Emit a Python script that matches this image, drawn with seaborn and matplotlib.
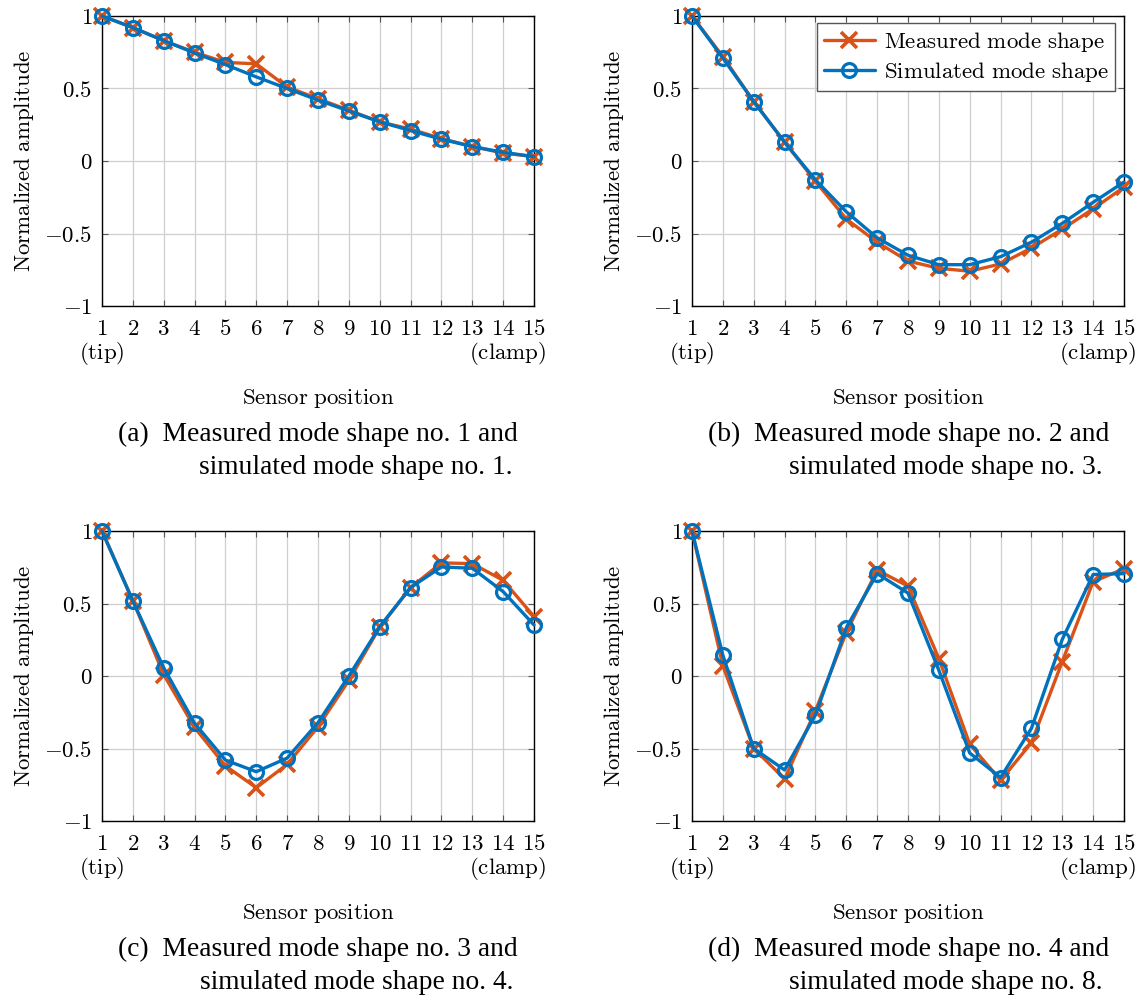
import numpy as np
import pandas as pd
import matplotlib
matplotlib.use("Agg")
import matplotlib.pyplot as plt
import matplotlib.transforms as mtransforms
import seaborn as sns

sns.set_style("white")
plt.rcParams["mathtext.fontset"] = "cm"
plt.rcParams["font.family"] = ["Liberation Serif", "DejaVu Serif"]
plt.rcParams["axes.unicode_minus"] = True
plt.rcParams["text.color"] = "black"
plt.rcParams["axes.labelcolor"] = "black"
plt.rcParams["xtick.color"] = "black"
plt.rcParams["ytick.color"] = "black"

# ---------------- data ----------------
sensors = list(range(1, 16))

meas_a = [1.0, 0.92, 0.83, 0.75, 0.68, 0.67, 0.51, 0.43, 0.35, 0.27, 0.22, 0.155, 0.10, 0.055, 0.03]
sim_a = [1.0, 0.92, 0.83, 0.745, 0.665, 0.58, 0.50, 0.42, 0.345, 0.27, 0.21, 0.15, 0.10, 0.06, 0.03]

meas_b = [1.0, 0.72, 0.41, 0.13, -0.14, -0.40, -0.56, -0.69, -0.74, -0.76, -0.71, -0.60, -0.47, -0.33, -0.18]
sim_b = [1.0, 0.71, 0.41, 0.13, -0.13, -0.35, -0.53, -0.65, -0.715, -0.715, -0.66, -0.56, -0.43, -0.285, -0.145]

meas_c = [1.0, 0.52, 0.01, -0.355, -0.62, -0.77, -0.61, -0.35, -0.03, 0.335, 0.61, 0.78, 0.775, 0.66, 0.41]
sim_c = [1.0, 0.517, 0.057, -0.326, -0.58, -0.66, -0.566, -0.322, 0.0, 0.34, 0.61, 0.752, 0.743, 0.582, 0.352]

meas_d = [1.0, 0.07, -0.50, -0.71, -0.24, 0.30, 0.73, 0.62, 0.12, -0.47, -0.72, -0.46, 0.10, 0.65, 0.74]
sim_d = [1.0, 0.143, -0.50, -0.648, -0.269, 0.333, 0.706, 0.572, 0.039, -0.531, -0.70, -0.361, 0.253, 0.70, 0.706]

y_ticks = [-1, -0.5, 0, 0.5, 1]
y_tick_labels = [r"$-1$", r"$-0.5$", r"$0$", r"$0.5$", r"$1$"]
x_tick_labels = [rf"${i}$" for i in sensors]

legend_labels = [r"$\mathrm{Measured\ mode\ shape}$", r"$\mathrm{Simulated\ mode\ shape}$"]
captions = [
    ("(a)  Measured mode shape no. 1 and", "simulated mode shape no. 1."),
    ("(b)  Measured mode shape no. 2 and", "simulated mode shape no. 3."),
    ("(c)  Measured mode shape no. 3 and", "simulated mode shape no. 4."),
    ("(d)  Measured mode shape no. 4 and", "simulated mode shape no. 8."),
]

panels = [(meas_a, sim_a), (meas_b, sim_b), (meas_c, sim_c), (meas_d, sim_d)]

ORANGE = "#D95319"
BLUE = "#0072BD"
FS = 16.5

W, H = 1148, 996
fig = plt.figure(figsize=(W / 100, H / 100), dpi=100)

# axes boxes in pixel: (left, top, right, bottom)
boxes = [(102, 16, 534, 306), (692, 16, 1124, 306), (102, 531, 534, 821), (692, 531, 1124, 821)]

for idx, ((meas, sim), box) in enumerate(zip(panels, boxes)):
    l, t, r, b = box
    ax = fig.add_axes([l / W, 1 - b / H, (r - l) / W, (b - t) / H])
    df = pd.DataFrame({"sensor": sensors, "meas": meas, "sim": sim})
    sns.lineplot(data=df, x="sensor", y="meas", ax=ax, color=ORANGE, lw=2.4,
                 marker="x", markersize=11, markeredgewidth=2.6, markeredgecolor=ORANGE,
                 label=legend_labels[0], legend=False, zorder=3, clip_on=False)
    sns.lineplot(data=df, x="sensor", y="sim", ax=ax, color=BLUE, lw=2.4,
                 marker="o", markersize=10, markeredgewidth=2.3, markeredgecolor=BLUE,
                 markerfacecolor="none", label=legend_labels[1], legend=False, zorder=4,
                 clip_on=False)
    ax.set_xlim(1, 15)
    ax.set_ylim(-1, 1)
    ax.set_xticks(sensors)
    ax.set_xticklabels(x_tick_labels, fontsize=FS)
    ax.set_yticks(y_ticks)
    ax.set_yticklabels(y_tick_labels, fontsize=FS)
    ax.tick_params(direction="in", length=4, width=0.8, color="#555555",
                   labelcolor="black",
                   top=True, right=True, bottom=True, left=True)
    ax.tick_params(axis="x", pad=9)
    ax.tick_params(axis="y", pad=7)
    ax.grid(True, color="#cfcfcf", lw=0.9)
    ax.set_axisbelow(True)
    for s in ax.spines.values():
        s.set_color("black")
        s.set_linewidth(1.0)
    ax.set_xlabel(r"$\mathrm{Sensor\ position}$", fontsize=FS, labelpad=34, color="black")
    ax.set_ylabel(r"$\mathrm{Normalized\ amplitude}$", fontsize=FS, labelpad=6, color="black")

    trans = mtransforms.blended_transform_factory(ax.transData, ax.transAxes)
    ax.text(1, -0.165, r"$\mathrm{(tip)}$", transform=trans, ha="center", va="center",
            fontsize=FS, color="black")
    ax.text(15.4, -0.165, r"$\mathrm{(clamp)}$", transform=trans, ha="right", va="center",
            fontsize=FS, color="black")

    if idx == 1:
        leg = ax.legend(loc="upper right", fontsize=FS, frameon=True, fancybox=False,
                        edgecolor="#555555", framealpha=1.0, borderpad=0.3,
                        handlelength=2.2, handletextpad=0.4, labelspacing=0.25,
                        borderaxespad=0.0, bbox_to_anchor=(0.98, 0.975))
        leg.get_frame().set_linewidth(1.0)
        for txt in leg.get_texts():
            txt.set_color("black")

    line1, line2 = captions[idx]
    fig.text((l + 16) / W, 1 - (b + 128) / H, line1, ha="left", va="center",
             fontsize=19.8, color="black")
    fig.text((r - 21) / W, 1 - (b + 161) / H, line2, ha="right", va="center",
             fontsize=19.8, color="black")

fig.savefig("out.png", dpi=100)
